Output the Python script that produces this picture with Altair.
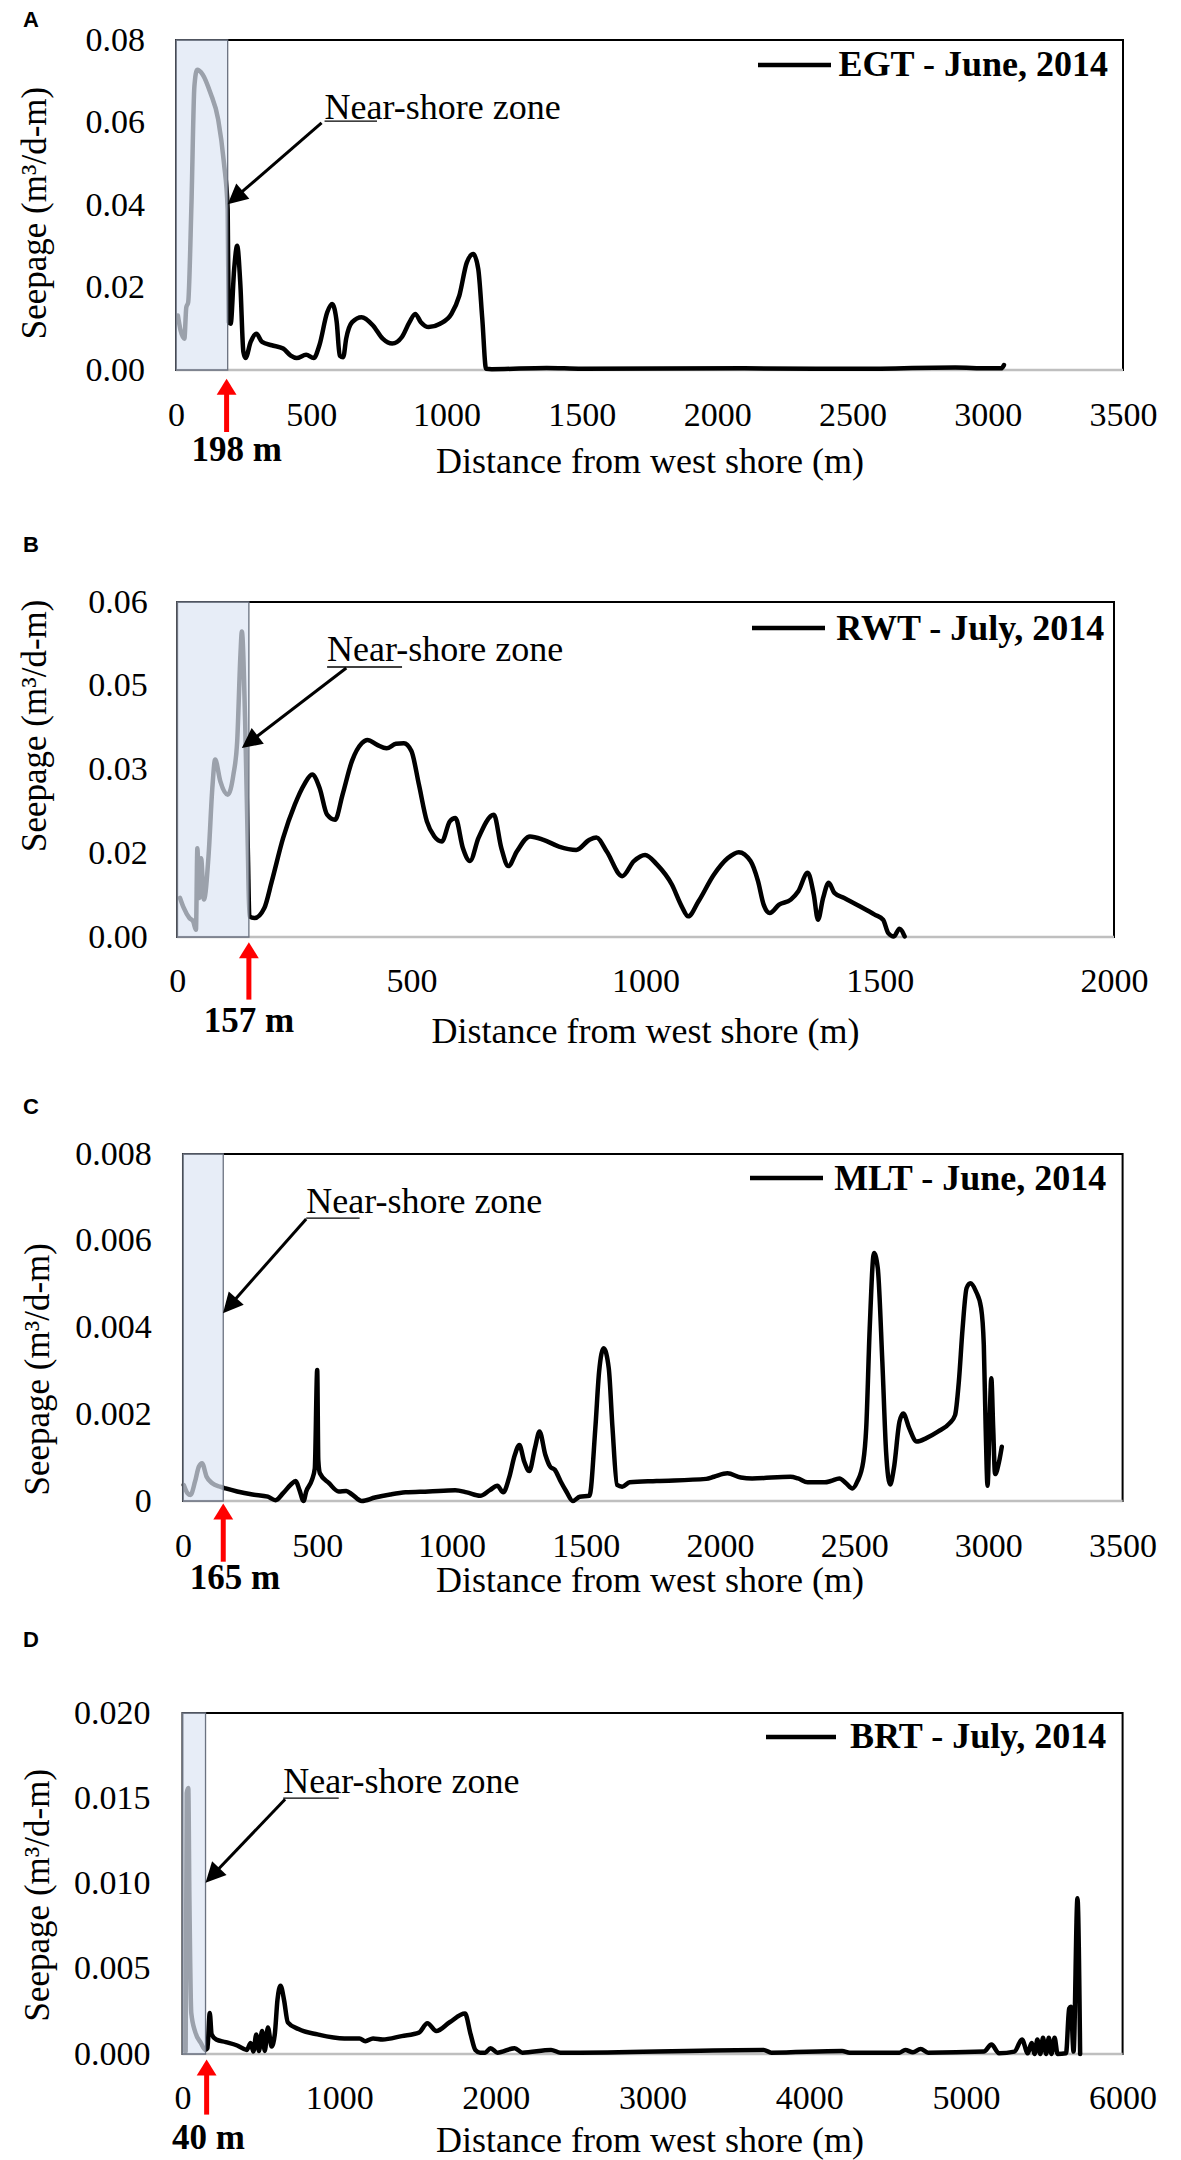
import math
import altair as alt
import pandas as pd

# ------------------------------------------------------------------ data
EGT_DIST = [7, 17, 31, 38, 45, 57, 68, 78, 99, 127, 156, 177, 191, 195, 202, 215, 226, 238, 249, 257,
            276, 297, 318, 354, 396, 424, 446, 481, 509, 530, 559, 577, 594, 605, 618, 629, 651, 686, 728, 764,
            799, 835, 863, 884, 905, 934, 976, 1018, 1047, 1075, 1099, 1117, 1132, 1146, 1167, 1370, 1500, 2100, 2500, 2880,
            3000, 3050, 3060]
EGT_SEEP = [0.0132, 0.0096, 0.0076, 0.0152, 0.0164, 0.0400, 0.0688, 0.0728, 0.0716, 0.0672,
            0.0607, 0.0503, 0.0390, 0.0116, 0.0112, 0.0245, 0.0301, 0.0205, 0.0044, 0.0029,
            0.0068, 0.0088, 0.0068, 0.0060, 0.0052, 0.0035, 0.0029, 0.0037, 0.0029, 0.0060,
            0.0140, 0.0160, 0.0116, 0.0035, 0.0031, 0.0076, 0.0116, 0.0128, 0.0108, 0.0076,
            0.0064, 0.0080, 0.0116, 0.0136, 0.0116, 0.0104, 0.0112, 0.0136, 0.0180, 0.0261,
            0.0281, 0.0245, 0.0124, 0.0003, 0.0002, 0.0005, 0.0003, 0.0004, 0.0003, 0.0006,
            0.0004, 0.0004, 0.0012]

RWT_DIST = [6, 14, 26, 34, 40, 43, 47, 51, 57, 67, 75, 81, 92, 108, 120, 128, 135, 138, 145, 151,
            154, 165, 186, 202, 226, 251, 271, 288, 304, 320, 337, 353, 373, 394, 406, 427, 447, 467, 484, 500,
            516, 533, 549, 565, 582, 594, 610, 625, 643, 676, 692, 707, 725, 753, 782, 815, 852, 880, 895, 917,
            950, 975, 999, 1024, 1056, 1077, 1091, 1113, 1146, 1175, 1199, 1224, 1240, 1252, 1265, 1285, 1310, 1326, 1346, 1359,
            1368, 1379, 1391, 1403, 1424, 1457, 1489, 1507, 1518, 1530, 1542, 1553]
RWT_SEEP = [0.0070, 0.0052, 0.0034, 0.0028, 0.0013, 0.0159, 0.0070, 0.0141, 0.0067, 0.0147,
            0.0267, 0.0318, 0.0279, 0.0255, 0.0291, 0.0350, 0.0506, 0.0547, 0.0386, 0.0147,
            0.0037, 0.0034, 0.0052, 0.0100, 0.0177, 0.0237, 0.0273, 0.0291, 0.0267, 0.0219,
            0.0210, 0.0255, 0.0315, 0.0347, 0.0353, 0.0344, 0.0338, 0.0346, 0.0347, 0.0333,
            0.0273, 0.0207, 0.0180, 0.0171, 0.0207, 0.0213, 0.0159, 0.0136, 0.0177, 0.0219,
            0.0159, 0.0127, 0.0153, 0.0180, 0.0174, 0.0162, 0.0156, 0.0174, 0.0178, 0.0153,
            0.0109, 0.0136, 0.0147, 0.0130, 0.0094, 0.0055, 0.0037, 0.0064, 0.0112, 0.0141,
            0.0152, 0.0136, 0.0100, 0.0058, 0.0043, 0.0058, 0.0067, 0.0082, 0.0115, 0.0076,
            0.0031, 0.0070, 0.0097, 0.0079, 0.0070, 0.0055, 0.0040, 0.0031, 0.0007, 0.0001,
            0.0015, 0.0001]

MLT_DIST = [3, 17, 28, 45, 59, 71, 88, 109, 138, 159, 202, 259, 316, 345, 373, 402, 420, 434, 449, 459,
            480, 491, 500, 504, 510, 544, 580, 608, 630, 666, 715, 772, 829, 915, 1014, 1057, 1107, 1143, 1171, 1193,
            1214, 1236, 1253, 1271, 1290, 1311, 1328, 1350, 1368, 1385, 1407, 1428, 1452, 1478, 1514, 1536, 1550, 1567, 1586, 1600,
            1617, 1636, 1664, 1764, 1949, 1978, 2028, 2078, 2120, 2263, 2291, 2327, 2391, 2413, 2445, 2470, 2494, 2512, 2534, 2545,
            2558, 2574, 2588, 2605, 2619, 2634, 2648, 2669, 2683, 2705, 2733, 2769, 2812, 2855, 2876, 2890, 2904, 2919, 2933, 2954,
            2973, 2983, 2990, 2997, 3004, 3011, 3018, 3025, 3040, 3050]
MLT_SEEP = [0.00037, 0.00018, 0.00014, 0.00045, 0.00079, 0.00087, 0.00056, 0.00041, 0.00033, 0.00029,
            0.00022, 0.00015, 0.00010, 0.00002, 0.00018, 0.00038, 0.00046, 0.00025, 0.00000, 0.00022,
            0.00048, 0.00075, 0.00302, 0.00095, 0.00064, 0.00041, 0.00022, 0.00023, 0.00015, 0.00000,
            0.00008, 0.00015, 0.00020, 0.00022, 0.00025, 0.00020, 0.00012, 0.00025, 0.00035, 0.00020,
            0.00052, 0.00106, 0.00129, 0.00091, 0.00069, 0.00122, 0.00160, 0.00106, 0.00079, 0.00072,
            0.00045, 0.00022, 0.00000, 0.00010, 0.00012, 0.00168, 0.00298, 0.00352, 0.00306, 0.00168,
            0.00037, 0.00033, 0.00043, 0.00046, 0.00051, 0.00056, 0.00064, 0.00054, 0.00052, 0.00056,
            0.00052, 0.00043, 0.00043, 0.00046, 0.00052, 0.00041, 0.00029, 0.00045, 0.00091, 0.00168,
            0.00398, 0.00572, 0.00537, 0.00322, 0.00114, 0.00038, 0.00075, 0.00183, 0.00202, 0.00168,
            0.00137, 0.00145, 0.00160, 0.00179, 0.00198, 0.00275, 0.00398, 0.00491, 0.00502, 0.00483,
            0.00445, 0.00360, 0.00168, 0.00035, 0.00168, 0.00283, 0.00168, 0.00062, 0.00091, 0.00125]

BRT_DIST = [20, 27, 37, 44, 56, 81, 117, 147, 159, 174, 186, 215, 276, 349, 410, 435, 452, 471, 488, 508,
            525, 545, 569, 589, 606, 626, 648, 672, 740, 862, 1033, 1130, 1167, 1216, 1277, 1399, 1509, 1563, 1620, 1705,
            1803, 1839, 1869, 1900, 1932, 1966, 2010, 2120, 2169, 2352, 2413, 2537, 3709, 3758, 4210, 4259, 4576, 4613, 4662, 4711,
            4759, 5114, 5163, 5211, 5309, 5358, 5395, 5419, 5439, 5456, 5475, 5492, 5512, 5529, 5546, 5566, 5585, 5639, 5659, 5670,
            5687, 5712, 5729]
BRT_SEEP = [0.00014, 0.0153, 0.0156, 0.0092, 0.0024, 0.0013, 0.00065, 0.00024, 0.00034, 0.0024,
            0.00115, 0.00085, 0.0007, 0.0005, 0.00024, 0.00065, 0.00014, 0.00115, 0.00018, 0.00135,
            0.00018, 0.00156, 0.00044, 0.00115, 0.00317, 0.004, 0.00317, 0.00186, 0.00146, 0.00115,
            0.00091, 0.00091, 0.00075, 0.00091, 0.00085, 0.00105, 0.00125, 0.0018, 0.00135, 0.00186,
            0.00237, 0.00115, 0.00024, 0.00008, 0.00008, 0.00034, 0.00008, 0.00034, 0.00008, 0.00024,
            0.00008, 0.00008, 0.00024, 0.00008, 0.00018, 0.00008, 0.00008, 0.00024, 0.0001, 0.0003,
            0.00008, 0.00014, 0.00055, 0.00004, 0.00014, 0.00085, 0.00004, 0.00065, 0.0, 0.00085,
            0.0, 0.00095, 0.0, 0.00095, 0.0, 0.00095, 0.0, 0.00004, 0.00267, 0.00277,
            0.00014, 0.00914, 0.0]

DIST = [EGT_DIST, RWT_DIST, MLT_DIST, BRT_DIST]
SEEP = [EGT_SEEP, RWT_SEEP, MLT_SEEP, BRT_SEEP]

SERIES_NAMES = ["EGT - June, 2014", "RWT - July, 2014", "MLT - June, 2014", "BRT - July, 2014"]
PANEL_LETTERS = ["A", "B", "C", "D"]

X_MAX = [3500, 2000, 3500, 6000]
X_TICKS = [[0, 500, 1000, 1500, 2000, 2500, 3000, 3500],
           [0, 500, 1000, 1500, 2000],
           [0, 500, 1000, 1500, 2000, 2500, 3000, 3500],
           [0, 1000, 2000, 3000, 4000, 5000, 6000]]
Y_MAX = [0.08, 0.06, 0.008, 0.02]
Y_TICKS = [[0, 0.02, 0.04, 0.06, 0.08],
           [0, 0.015, 0.03, 0.045, 0.06],
           [0, 0.002, 0.004, 0.006, 0.008],
           [0, 0.005, 0.01, 0.015, 0.02]]
Y_TICK_LABELS = [["0.00", "0.02", "0.04", "0.06", "0.08"],
                 ["0.00", "0.02", "0.03", "0.05", "0.06"],
                 ["0", "0.002", "0.004", "0.006", "0.008"],
                 ["0.000", "0.005", "0.010", "0.015", "0.020"]]

# near-shore zone (m) and its labels
ZONE_EDGE_M = [191, 153, 150, 147]
ZONE_ARROW_M = [187, 153, 150, 154]
ZONE_LABEL_M = [224, 153, 194, 165]
ZONE_LABELS = ["198 m", "157 m", "165 m", "40 m"]

# "Near-shore zone" callout, in data units
CALLOUT_TEXT = "Near-shore zone"
CALLOUT_X = [549, 320, 459, 643]
CALLOUT_Y = [0.0609, 0.04938, 0.006638, 0.01531]
UNDERLINE_X2 = [743, 480, 658, 997]
UNDERLINE_Y = [0.06035, 0.04836, 0.006523, 0.01501]
LEADER_X = [538, 361, 459, 655]
LEADER_Y = [0.0599, 0.04818, 0.0065, 0.01494]
TIP_X = [191, 138, 149, 147]
TIP_Y = [0.0402, 0.03385, 0.00433, 0.01005]

# ------------------------------------------------------------------ layout / style
SERIF = "Liberation Serif"
SANS = "Liberation Sans"
PLOT_LEFT = 168  # distance from chart edge to plot area

GEOM = [
    dict(w=947, h=330, xmin=0, xmax=3500, top=29, bottom=115, ylabpad=31.4, xlabpad=28.6,
         ytx=-142, yty=172.5, xty=91, letter_y=-20.1, leg_right=932, leg_base=36.3,
         leg_x1=582, leg_x2=655, leg_y=25, red_tip=8.7, red_end=62, zl_base=91.3),
    dict(w=938, h=335, xmin=-2.6, xmax=2000, top=117, bottom=115, ylabpad=28.7, xlabpad=27.2,
         ytx=-142, yty=123.3, xty=94, letter_y=-57, leg_right=928.3, leg_base=37.6,
         leg_x1=576, leg_x2=649, leg_y=26, red_tip=5.3, red_end=62.6, zl_base=95.3),
    dict(w=947, h=347, xmin=-26, xmax=3501.5, top=102, bottom=115, ylabpad=24.8, xlabpad=28,
         ytx=-138.5, yty=214.8, xty=79.5, letter_y=-47.5, leg_right=930.2, leg_base=35.6,
         leg_x1=574, leg_x2=647, leg_y=24, red_tip=2.4, red_end=60.7, zl_base=87.8),
    dict(w=947, h=341, xmin=-41.5, xmax=6002.6, top=97, bottom=0, ylabpad=26, xlabpad=27.9,
         ytx=-138.5, yty=181.7, xty=86, letter_y=-73.1, leg_right=930.2, leg_base=35.1,
         leg_x1=590, leg_x2=660, leg_y=24, red_tip=5.6, red_end=60.6, zl_base=95.3),
]

HEAD_PATH = "M0,0L-0.5,1L0.5,1Z"      # tip at origin, pointing up
HEAD_LEN = 20
RED_PATH = "M0,0L-0.62,1L0.62,1Z"
RED_LEN = 16


def label_expr(vals, labs):
    expr = "''"
    for v, l in zip(reversed(vals), reversed(labs)):
        expr = f"abs(datum.value - ({v})) < 1e-9 ? '{l}' : {expr}"
    return expr


def panel(i):
    g = GEOM[i]
    W, H = g["w"], g["h"]
    xs = alt.Scale(domain=[g["xmin"], g["xmax"]], nice=False, zero=False)
    ys = alt.Scale(domain=[0, Y_MAX[i]], nice=False, zero=False)

    xaxis = alt.Axis(
        title="Distance from west shore (m)", values=X_TICKS[i],
        labelExpr=label_expr(X_TICKS[i], [str(v) for v in X_TICKS[i]]),
        grid=False, ticks=False, tickSize=0, domain=False,
        labelFont=SERIF, labelFontSize=34, labelColor="black", labelPadding=g["xlabpad"],
        labelFlush=False, labelOverlap=False,
        titleFont=SERIF, titleFontSize=36, titleFontWeight="normal", titleColor="black",
        titleBaseline="middle", titleY=g["xty"])
    yaxis = alt.Axis(
        title="Seepage (m³/d-m)", values=Y_TICKS[i],
        labelExpr=label_expr(Y_TICKS[i], Y_TICK_LABELS[i]),
        grid=False, ticks=False, tickSize=0, domain=False,
        labelFont=SERIF, labelFontSize=34, labelColor="black", labelPadding=g["ylabpad"],
        labelFlush=False, labelOverlap=False,
        titleFont=SERIF, titleFontSize=35, titleFontWeight="normal", titleColor="black",
        titleBaseline="middle", titleAlign="center", titleAngle=270,
        titleX=g["ytx"], titleY=g["yty"])

    def X(f):
        return alt.X(f, type="quantitative", scale=xs, axis=xaxis)

    def Y(f):
        return alt.Y(f, type="quantitative", scale=ys, axis=yaxis)

    def px(v):
        return (v - g["xmin"]) / (g["xmax"] - g["xmin"]) * W

    def py(v):
        return H * (1 - v / Y_MAX[i])

    frame = pd.DataFrame({"x0": [0], "x1": [X_MAX[i]], "y0": [0], "y1": [Y_MAX[i]]})
    border = alt.Chart(frame).mark_rect(fillOpacity=0, stroke="black", strokeWidth=2).encode(
        x=X("x0"), x2="x1", y=Y("y0"), y2="y1")
    axis_line = alt.Chart(frame).mark_rule(color="#bfbfbf", strokeWidth=2.5).encode(
        x=X("x0"), x2="x1", y=Y("y0"))

    df = pd.DataFrame({"x0": DIST[i], "y0": SEEP[i]})
    line = alt.Chart(df).mark_line(color="black", strokeWidth=4.5, interpolate="monotone",
                                   strokeJoin="round", strokeCap="round").encode(
        x=X("x0"), y=Y("y0"))

    box_df = pd.DataFrame({"x0": [0], "x1": [ZONE_EDGE_M[i]], "y0": [0], "y1": [Y_MAX[i]]})
    box = alt.Chart(box_df).mark_rect(fill="#dde5f3", fillOpacity=0.7, stroke="#6b7280",
                                      strokeWidth=1.3).encode(
        x=X("x0"), x2="x1", y=Y("y0"), y2="y1")

    # callout
    ul_df = pd.DataFrame({"x0": [CALLOUT_X[i]], "x1": [UNDERLINE_X2[i]], "y0": [UNDERLINE_Y[i]]})
    underline = alt.Chart(ul_df).mark_rule(color="black", strokeWidth=1.3).encode(
        x=X("x0"), x2="x1", y=Y("y0"))
    dxp = px(TIP_X[i]) - px(LEADER_X[i])
    dyp = py(TIP_Y[i]) - py(LEADER_Y[i])
    length = math.hypot(dxp, dyp)
    frac = (HEAD_LEN * 0.8) / length
    end_x = TIP_X[i] + (LEADER_X[i] - TIP_X[i]) * frac
    end_y = TIP_Y[i] + (LEADER_Y[i] - TIP_Y[i]) * frac
    angle = math.degrees(math.atan2(dxp, -dyp)) % 360
    ld_df = pd.DataFrame({"x0": [LEADER_X[i]], "y0": [LEADER_Y[i]], "x1": [end_x], "y1": [end_y]})
    leader = alt.Chart(ld_df).mark_rule(color="black", strokeWidth=3).encode(
        x=X("x0"), y=Y("y0"), x2="x1", y2="y1")
    tip_df = pd.DataFrame({"x0": [TIP_X[i]], "y0": [TIP_Y[i]]})
    head = alt.Chart(tip_df).mark_point(shape=HEAD_PATH, size=(2 * HEAD_LEN) ** 2, angle=angle,
                                        filled=True, opacity=1, color="black", strokeWidth=0).encode(
        x=X("x0"), y=Y("y0"))
    ct_df = pd.DataFrame({"x0": [CALLOUT_X[i]], "y0": [CALLOUT_Y[i]], "t": [CALLOUT_TEXT]})
    ctext = alt.Chart(ct_df).mark_text(align="left", baseline="alphabetic", font=SERIF,
                                       fontSize=36, color="black").encode(
        x=X("x0"), y=Y("y0"), text="t:N")

    # legend
    leg_df = pd.DataFrame({"t": [SERIES_NAMES[i]]})
    leg_line = alt.Chart(leg_df).mark_rule(color="black", strokeWidth=4.5).encode(
        x=alt.value(g["leg_x1"]), x2=alt.value(g["leg_x2"]), y=alt.value(g["leg_y"]))
    leg_text = alt.Chart(leg_df).mark_text(align="right", baseline="alphabetic", font=SERIF,
                                           fontSize=36, fontWeight="bold", color="black").encode(
        x=alt.value(g["leg_right"]), y=alt.value(g["leg_base"]), text="t:N")

    # red arrow and zone width label
    red_df = pd.DataFrame({"x0": [ZONE_ARROW_M[i]]})
    shaft = alt.Chart(red_df).mark_rule(color="#ff0000", strokeWidth=5).encode(
        x=X("x0"), y=alt.value(H + g["red_tip"] + RED_LEN - 3), y2=alt.value(H + g["red_end"]))
    red_head = alt.Chart(red_df).mark_point(shape=RED_PATH, size=(2 * RED_LEN) ** 2, filled=True,
                                            opacity=1, color="#ff0000", strokeWidth=0).encode(
        x=X("x0"), y=alt.value(H + g["red_tip"]))
    zl_df = pd.DataFrame({"x0": [ZONE_LABEL_M[i]], "t": [ZONE_LABELS[i]]})
    zlab = alt.Chart(zl_df).mark_text(align="center", baseline="alphabetic", font=SERIF,
                                      fontSize=35, fontWeight="bold", color="black").encode(
        x=X("x0"), y=alt.value(H + g["zl_base"]), text="t:N")

    letter = alt.Chart(pd.DataFrame({"t": [PANEL_LETTERS[i]]})).mark_text(
        align="left", baseline="middle", font=SANS, fontSize=22, fontWeight="bold",
        color="black").encode(x=alt.value(23 - 8 - PLOT_LEFT), y=alt.value(g["letter_y"]), text="t:N")

    spacer = alt.Chart(pd.DataFrame({"a": [0]})).mark_rule(strokeWidth=0, opacity=0).encode(
        x=alt.value(-PLOT_LEFT), x2=alt.value(0),
        y=alt.value(-g["top"]), y2=alt.value(H + g["bottom"]))

    return alt.layer(border, axis_line, line, box, underline, leader, head, ctext,
                     leg_line, leg_text, shaft, red_head, zlab, letter, spacer).properties(
        width=W, height=H)


chart = alt.vconcat(*[panel(i) for i in range(4)], spacing=0).properties(
    padding={"left": 0, "top": 0, "right": 5, "bottom": 2},
    background="white",
).configure_view(strokeWidth=0)

chart.save("out.html", embed_options={"renderer": "svg", "actions": False})
